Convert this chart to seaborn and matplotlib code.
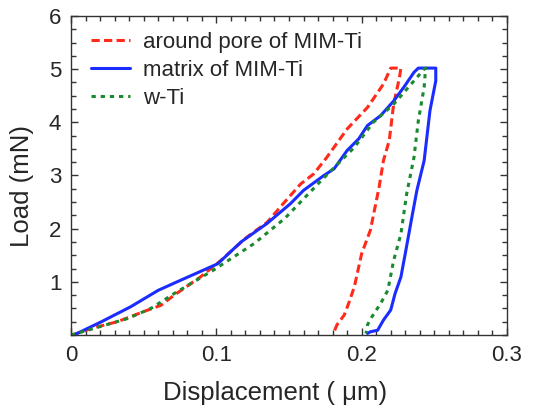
import numpy as np
import pandas as pd
import matplotlib
matplotlib.use("Agg")
import matplotlib.pyplot as plt
import seaborn as sns
from matplotlib.ticker import MultipleLocator

# ---- data ----
blue_x = [0.002, 0.021, 0.041, 0.060, 0.073, 0.101, 0.117, 0.135, 0.151, 0.160, 0.174, 0.181, 0.190,
          0.198, 0.204, 0.213, 0.222, 0.229, 0.236, 0.239, 0.251,
          0.251, 0.247, 0.243, 0.238, 0.235, 0.230, 0.227, 0.223, 0.220, 0.215, 0.211, 0.206, 0.204]
blue_y = [0.0, 0.25, 0.53, 0.84, 1.0, 1.34, 1.75, 2.1, 2.47, 2.72, 3.0, 3.125, 3.47,
          3.69, 3.94, 4.125, 4.4, 4.66, 4.94, 5.02, 5.02,
          4.78, 4.22, 3.28, 2.72, 2.28, 1.53, 1.09, 0.78, 0.47, 0.28, 0.09, 0.06, 0.03]

red_x = [0.001, 0.014, 0.032, 0.050, 0.062, 0.071, 0.089, 0.103, 0.121, 0.135, 0.147, 0.158, 0.167,
         0.176, 0.190, 0.204, 0.215, 0.220, 0.227,
         0.226, 0.222, 0.219, 0.215, 0.212, 0.206, 0.200, 0.195, 0.191, 0.188, 0.183, 0.181]
red_y = [0.0, 0.125, 0.25, 0.44, 0.56, 0.75, 1.09, 1.4, 1.84, 2.12, 2.5, 2.84, 3.03,
         3.34, 3.875, 4.28, 4.72, 5.02, 5.02,
         4.84, 4.34, 3.66, 3.28, 2.78, 1.97, 1.53, 0.91, 0.59, 0.375, 0.19, 0.06]

green_x = [0.0, 0.016, 0.039, 0.055, 0.071, 0.098, 0.126, 0.147, 0.172, 0.195, 0.208, 0.222, 0.236,
           0.243, 0.244,
           0.243, 0.239, 0.236, 0.231, 0.227, 0.222, 0.218, 0.213, 0.207, 0.204, 0.203]
green_y = [0.0, 0.125, 0.31, 0.5, 0.78, 1.22, 1.72, 2.19, 2.9, 3.53, 4.0, 4.34, 4.78,
           5.0, 5.02,
           4.66, 4.03, 3.34, 2.66, 1.9, 1.4, 0.84, 0.59, 0.34, 0.19, 0.03]

labels = ["around pore of MIM-Ti", "matrix of MIM-Ti", "w-Ti"]
x_ticks = [0, 0.1, 0.2, 0.3]
x_tick_labels = ["0", "0.1", "0.2", "0.3"]
y_ticks = [1, 2, 3, 4, 5, 6]

frames = []
for lab, xs, ys in zip(labels, [red_x, blue_x, green_x], [red_y, blue_y, green_y]):
    frames.append(pd.DataFrame({"x": xs, "y": ys, "series": lab}))
df = pd.concat(frames, ignore_index=True)

sns.set_style("ticks")
plt.rcParams["font.family"] = ["Liberation Sans", "DejaVu Sans"]

fig = plt.figure(figsize=(5.39, 4.12), dpi=100)
ax = fig.add_axes([0.1317, 0.1869, 0.8089, 0.7743])

palette = {labels[0]: "#ff2a1a", labels[1]: "#1a2cff", labels[2]: "#1a8a2e"}
dashes = {labels[0]: (2.7, 1.4), labels[1]: "", labels[2]: (1.4, 1.6)}
sns.lineplot(data=df, x="x", y="y", hue="series", style="series", palette=palette,
             dashes=dashes, sort=False, estimator=None,
             linewidth=2.2, ax=ax, legend=True)

ax.set_xlim(0, 0.3)
ax.set_ylim(0, 6)
ax.set_xticks(x_ticks)
ax.set_xticklabels(x_tick_labels)
ax.set_yticks(y_ticks)
ax.xaxis.set_minor_locator(MultipleLocator(0.01))
ax.yaxis.set_minor_locator(MultipleLocator(0.25))
ax.tick_params(which="both", direction="in", top=True, right=True, color="#333333", width=1)
ax.tick_params(which="major", length=5, labelsize=16, pad=7)
ax.tick_params(which="minor", length=3.3)
for s in ax.spines.values():
    s.set_color("#333333")
    s.set_linewidth(1)

ax.set_xlabel("Displacement ( \u03bcm)", fontsize=18.5, va="center")
ax.set_ylabel("Load (mN)", fontsize=18.5, va="center")
ax.xaxis.set_label_coords(0.468, -0.182)
ax.yaxis.set_label_coords(-0.112, 0.467)

leg = ax.legend(loc="upper left", frameon=False, fontsize=16, handlelength=1.75,
                handletextpad=0.6, labelspacing=0.32, borderpad=0, borderaxespad=0,
                bbox_to_anchor=(0.0459, 0.95))

fig.savefig("out.png", dpi=100)
